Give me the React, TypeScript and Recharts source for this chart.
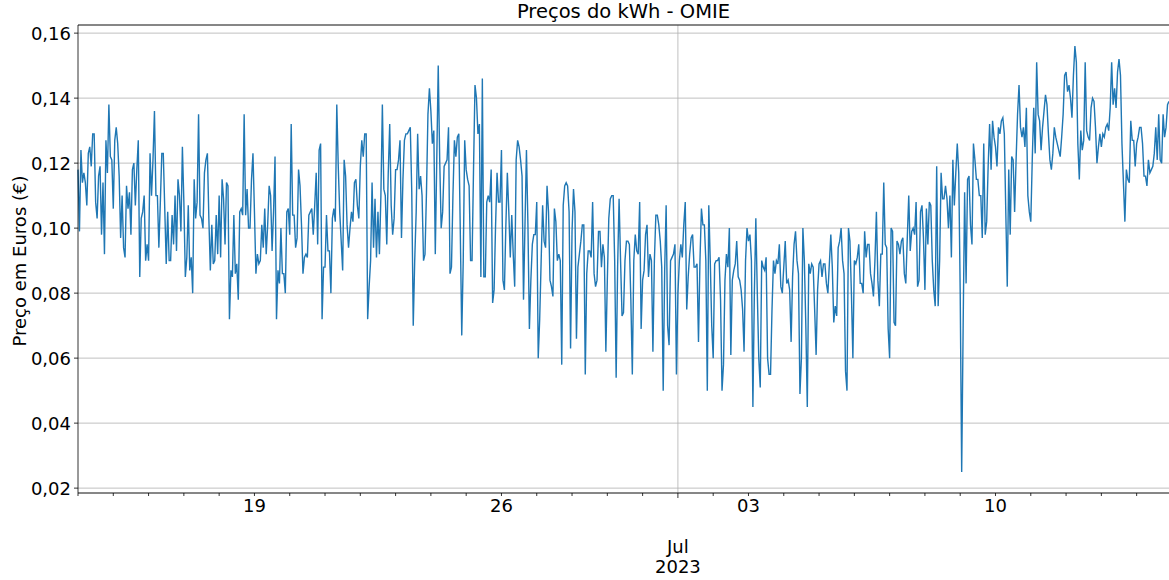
import {
  CartesianGrid,
  Line,
  LineChart,
  ReferenceLine,
  XAxis,
  YAxis,
} from 'recharts';

// Hourly prices (€/kWh), starting 2023-06-14 00:00.
const jun14_16 = [
  0.118, 0.099, 0.124, 0.114, 0.117, 0.114, 0.107, 0.123, 0.125, 0.119,
  0.129, 0.129, 0.108, 0.103, 0.116, 0.119, 0.098, 0.114, 0.092, 0.127,
  0.117, 0.138, 0.122, 0.121, 0.106, 0.127, 0.131, 0.126, 0.116, 0.097,
  0.110, 0.094, 0.091, 0.113, 0.106, 0.111, 0.098, 0.118, 0.120, 0.107,
  0.118, 0.127, 0.085, 0.103, 0.105, 0.110, 0.090, 0.095, 0.090, 0.123,
  0.110, 0.121, 0.136, 0.110, 0.110, 0.094, 0.108, 0.123, 0.123, 0.106,
  0.089, 0.105, 0.090, 0.090, 0.104, 0.095, 0.110, 0.093,
];
const jun16_19 = [
  0.115, 0.110, 0.099, 0.125, 0.108, 0.085, 0.091, 0.107, 0.087, 0.091,
  0.080, 0.115, 0.103, 0.108, 0.135, 0.104, 0.103, 0.100, 0.117, 0.121,
  0.123, 0.103, 0.087, 0.101, 0.089, 0.090, 0.104, 0.092, 0.110, 0.091,
  0.115, 0.109, 0.095, 0.114, 0.113, 0.072, 0.087, 0.085, 0.104, 0.086,
  0.089, 0.078, 0.105, 0.106, 0.104, 0.135, 0.104, 0.112, 0.100, 0.100,
  0.115, 0.123, 0.105, 0.086, 0.092, 0.089, 0.090, 0.101, 0.094, 0.106,
  0.092, 0.101, 0.113, 0.110, 0.093, 0.105, 0.122, 0.072,
];
const jun19_22 = [
  0.087, 0.083, 0.100, 0.086, 0.086, 0.080, 0.105, 0.106, 0.098, 0.132,
  0.104, 0.104, 0.094, 0.097, 0.118, 0.113, 0.101, 0.086, 0.091, 0.092,
  0.091, 0.104, 0.105, 0.106, 0.098, 0.107, 0.117, 0.095, 0.124, 0.126,
  0.072, 0.088, 0.088, 0.104, 0.093, 0.093, 0.080, 0.103, 0.106, 0.102,
  0.138, 0.119, 0.105, 0.096, 0.087, 0.121, 0.116, 0.101, 0.094, 0.100,
  0.105, 0.102, 0.114, 0.115, 0.107, 0.103, 0.119, 0.127, 0.122, 0.129,
  0.129, 0.072, 0.082, 0.090, 0.114, 0.094, 0.109, 0.091,
];
const jun22_25 = [
  0.105, 0.092, 0.110, 0.138, 0.112, 0.110, 0.095, 0.117, 0.132, 0.107,
  0.098, 0.103, 0.118, 0.118, 0.121, 0.127, 0.097, 0.115, 0.127, 0.129,
  0.129, 0.130, 0.131, 0.111, 0.070, 0.090, 0.105, 0.129, 0.112, 0.116,
  0.110, 0.090, 0.092, 0.111, 0.135, 0.143, 0.136, 0.126, 0.130, 0.092,
  0.121, 0.150, 0.121, 0.100, 0.105, 0.119, 0.120, 0.121, 0.131, 0.086,
  0.088, 0.110, 0.127, 0.122, 0.128, 0.129, 0.099, 0.067, 0.090, 0.127,
  0.118, 0.115, 0.113, 0.090, 0.090, 0.118, 0.144, 0.140,
];
const jun25_28 = [
  0.129, 0.132, 0.085, 0.146, 0.085, 0.085, 0.108, 0.110, 0.108, 0.118,
  0.077, 0.081, 0.101, 0.117, 0.108, 0.108, 0.124, 0.084, 0.081, 0.101,
  0.117, 0.105, 0.091, 0.104, 0.092, 0.082, 0.121, 0.127, 0.125, 0.121,
  0.116, 0.078, 0.101, 0.124, 0.101, 0.069, 0.084, 0.095, 0.098, 0.098,
  0.108, 0.060, 0.072, 0.090, 0.107, 0.096, 0.094, 0.113, 0.105, 0.084,
  0.082, 0.079, 0.106, 0.102, 0.090, 0.092, 0.090, 0.058, 0.107, 0.113,
  0.114, 0.113, 0.105, 0.063, 0.099, 0.112, 0.105, 0.066,
];
const jun28_jul01 = [
  0.088, 0.092, 0.096, 0.101, 0.101, 0.055, 0.086, 0.093, 0.093, 0.091,
  0.108, 0.086, 0.082, 0.084, 0.099, 0.099, 0.088, 0.095, 0.091, 0.062,
  0.084, 0.103, 0.109, 0.110, 0.110, 0.090, 0.054, 0.088, 0.109, 0.090,
  0.073, 0.074, 0.090, 0.096, 0.096, 0.095, 0.078, 0.055, 0.090, 0.098,
  0.093, 0.092, 0.108, 0.069, 0.084, 0.087, 0.098, 0.101, 0.085, 0.092,
  0.090, 0.062, 0.090, 0.104, 0.104, 0.101, 0.096, 0.088, 0.050, 0.087,
  0.107, 0.070, 0.064, 0.090, 0.091, 0.092, 0.095, 0.055,
];
const jul01_04 = [
  0.080, 0.090, 0.095, 0.091, 0.101, 0.108, 0.075, 0.085, 0.092, 0.097,
  0.098, 0.088, 0.088, 0.089, 0.065, 0.090, 0.106, 0.101, 0.101, 0.090,
  0.050, 0.107, 0.090, 0.070, 0.060, 0.089, 0.090, 0.090, 0.091, 0.078,
  0.050, 0.058, 0.084, 0.092, 0.088, 0.100, 0.061, 0.084, 0.087, 0.089,
  0.096, 0.085, 0.084, 0.081, 0.075, 0.062, 0.090, 0.100, 0.096, 0.098,
  0.090, 0.045, 0.080, 0.103, 0.080, 0.060, 0.051, 0.090, 0.088, 0.087,
  0.091, 0.060, 0.055, 0.055, 0.075, 0.090, 0.086, 0.090,
];
const jul04_07 = [
  0.089, 0.095, 0.082, 0.080, 0.088, 0.096, 0.083, 0.084, 0.081, 0.065,
  0.085, 0.095, 0.099, 0.090, 0.086, 0.049, 0.060, 0.100, 0.090, 0.070,
  0.045, 0.089, 0.086, 0.089, 0.088, 0.075, 0.061, 0.081, 0.089, 0.090,
  0.085, 0.089, 0.089, 0.083, 0.080, 0.089, 0.098, 0.088, 0.071, 0.076,
  0.073, 0.094, 0.096, 0.100, 0.090, 0.086, 0.056, 0.050, 0.100, 0.096,
  0.080, 0.060, 0.090, 0.089, 0.091, 0.095, 0.083, 0.083, 0.080, 0.099,
  0.091, 0.095, 0.095, 0.086, 0.083, 0.079, 0.090, 0.105,
];
const jul07_10 = [
  0.084, 0.076, 0.092, 0.092, 0.114, 0.095, 0.094, 0.069, 0.060, 0.100,
  0.099, 0.071, 0.070, 0.096, 0.095, 0.092, 0.096, 0.097, 0.086, 0.083,
  0.097, 0.110, 0.093, 0.099, 0.100, 0.098, 0.108, 0.082, 0.084, 0.105,
  0.107, 0.097, 0.081, 0.106, 0.095, 0.108, 0.107, 0.090, 0.081, 0.076,
  0.119, 0.076, 0.090, 0.117, 0.109, 0.109, 0.113, 0.109, 0.100, 0.110,
  0.091, 0.121, 0.107, 0.117, 0.126, 0.117, 0.080, 0.025, 0.070, 0.111,
  0.083, 0.115, 0.116, 0.101, 0.095, 0.126, 0.121, 0.115,
];
const jul10_13 = [
  0.115, 0.110, 0.110, 0.097, 0.126, 0.098, 0.102, 0.119, 0.132, 0.118,
  0.133, 0.128, 0.125, 0.119, 0.131, 0.129, 0.133, 0.134, 0.129, 0.105,
  0.082, 0.118, 0.098, 0.122, 0.121, 0.105, 0.121, 0.135, 0.144, 0.131,
  0.128, 0.131, 0.125, 0.137, 0.110, 0.105, 0.102, 0.121, 0.137, 0.123,
  0.151, 0.135, 0.133, 0.124, 0.131, 0.136, 0.141, 0.138, 0.129, 0.121,
  0.118, 0.123, 0.131, 0.128, 0.126, 0.124, 0.122, 0.128, 0.135, 0.147,
  0.148, 0.142, 0.144, 0.140, 0.134, 0.147, 0.156, 0.151,
];
const jul13_14 = [
  0.126, 0.115, 0.130, 0.124, 0.127, 0.151, 0.130, 0.128, 0.127, 0.137,
  0.140, 0.139, 0.131, 0.120, 0.125, 0.129, 0.125, 0.129, 0.128, 0.131,
  0.132, 0.130, 0.137, 0.151, 0.138, 0.143, 0.137, 0.148, 0.152, 0.147,
  0.126, 0.114, 0.102, 0.118, 0.115, 0.114, 0.133, 0.127, 0.127, 0.119,
  0.126, 0.128, 0.131, 0.131, 0.126, 0.116, 0.116, 0.113, 0.121, 0.117,
  0.118, 0.119, 0.123, 0.131, 0.121, 0.135, 0.121, 0.120, 0.135, 0.128,
  0.131, 0.138, 0.139,
];

const y_ticks = [0.02, 0.04, 0.06, 0.08, 0.1, 0.12, 0.14, 0.16];
const y_domain = [0.0185, 0.1625];
const month_label = ['Jul', '2023'];

const START = Date.UTC(2023, 5, 14);
const HOUR = 3600 * 1000;
const DAY = 24 * HOUR;
const JUL_1 = Date.UTC(2023, 6, 1);

const prices = [
  ...jun14_16, ...jun16_19, ...jun19_22, ...jun22_25, ...jun25_28,
  ...jun28_jul01, ...jul01_04, ...jul04_07, ...jul07_10, ...jul10_13, ...jul13_14,
];
const data = prices.map((price, i) => ({ t: START + i * HOUR, price }));
const END = data[data.length - 1].t;

const day_ticks: number[] = [];
for (let t = START; t <= END; t += DAY) day_ticks.push(t);

const FONT = '"DejaVu Sans", sans-serif';
const TICK_FONT = 18;

function pad2(n: number): string {
  return n.toString().padStart(2, '0');
}

function DateTick(props: any) {
  const { x, y, payload } = props;
  const d = new Date(payload.value);
  const is_month = d.getUTCDate() === 1;
  const is_week = d.getUTCDay() === 1;
  return (
    <g>
      <line x1={x} x2={x} y1={y} y2={y + (is_month ? 5 : 3)} stroke="#000" strokeWidth={0.8} />
      {is_week && (
        <text x={x} y={y + 19} textAnchor="middle" fontSize={TICK_FONT} fontFamily={FONT} fill="#000">
          {pad2(d.getUTCDate())}
        </text>
      )}
      {is_month && (
        <text x={x} y={y + 60} textAnchor="middle" fontSize={TICK_FONT} fontFamily={FONT} fill="#000">
          <tspan x={x}>{month_label[0]}</tspan>
          <tspan x={x} dy={20}>{month_label[1]}</tspan>
        </text>
      )}
    </g>
  );
}

export default function App() {
  return (
    <div style={{ position: 'absolute', left: 0, top: 0, width: 1169, height: 580, background: '#fff', fontFamily: FONT }}>
      <div
        style={{
          position: 'absolute', left: 78, width: 1091, top: 0, textAlign: 'center',
          fontSize: 19.5, lineHeight: '24px', color: '#000',
        }}
      >
        Preços do kWh - OMIE
      </div>
      <div
        style={{
          position: 'absolute', left: 19, top: 261, transform: 'translate(-50%, -50%) rotate(-90deg)',
          whiteSpace: 'nowrap', fontSize: 18, color: '#000',
        }}
      >
        Preço em Euros (€)
      </div>
      <LineChart width={1169} height={580} data={data} margin={{ top: 25, right: 0, bottom: 0, left: 0 }}>
        <CartesianGrid vertical={false} stroke="#b0b0b0" strokeWidth={0.8} />
        <ReferenceLine x={JUL_1} stroke="#b0b0b0" strokeWidth={0.8} />
        <ReferenceLine y={y_domain[1]} stroke="#000" strokeWidth={0.8} />
        <XAxis
          dataKey="t"
          type="number"
          domain={[START, END]}
          ticks={day_ticks}
          interval={0}
          height={87}
          tickLine={false}
          tickSize={0}
          tickMargin={0}
          axisLine={{ stroke: '#000', strokeWidth: 0.8 }}
          tick={<DateTick />}
        />
        <YAxis
          type="number"
          domain={y_domain}
          ticks={y_ticks}
          width={78}
          tickSize={4}
          tickMargin={3}
          tickLine={{ stroke: '#000', strokeWidth: 0.8 }}
          axisLine={{ stroke: '#000', strokeWidth: 0.8 }}
          tick={{ fontSize: TICK_FONT, fill: '#000', fontFamily: FONT }}
          tickFormatter={(v: number) => v.toFixed(2).replace('.', ',')}
        />
        <Line
          type="linear"
          dataKey="price"
          stroke="#1f77b4"
          strokeWidth={1.4}
          dot={false}
          isAnimationActive={false}
        />
      </LineChart>
    </div>
  );
}
